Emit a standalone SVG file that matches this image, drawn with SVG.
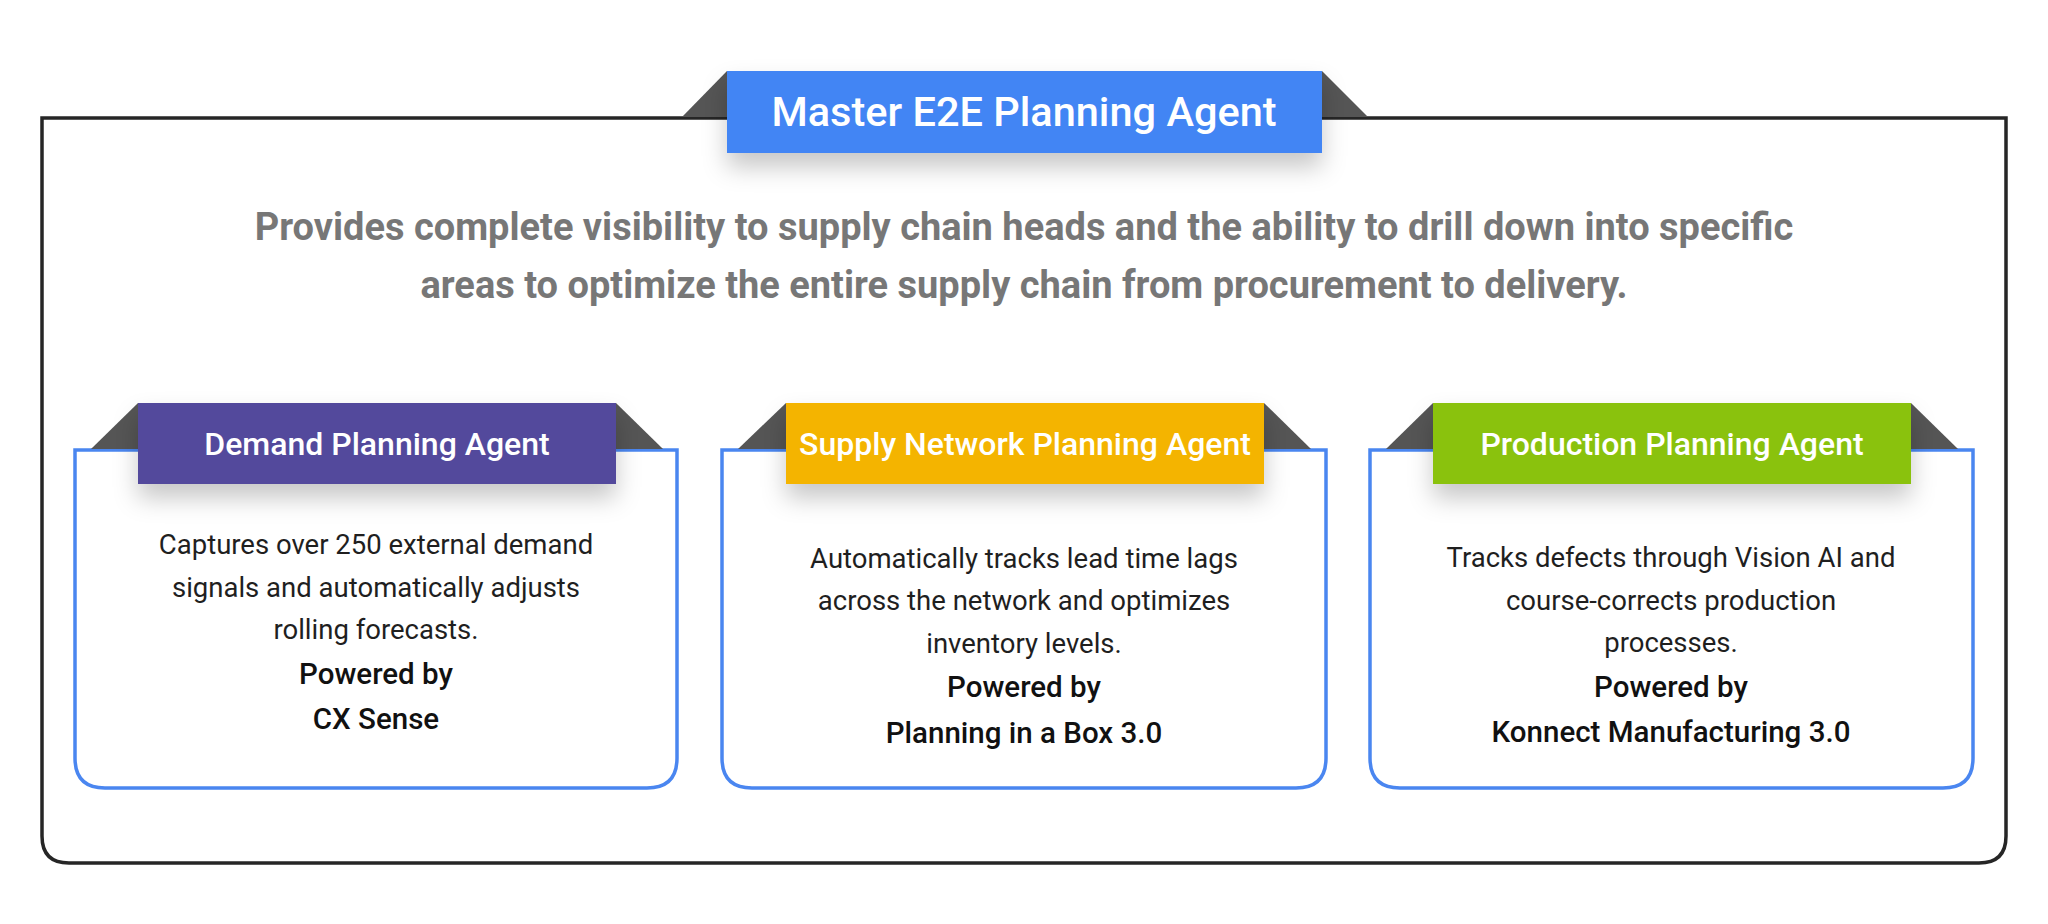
<svg xmlns="http://www.w3.org/2000/svg" width="2048" height="924" viewBox="0 0 2048 924">
  <defs>
    <filter id="shadow" x="-20%" y="-40%" width="140%" height="220%">
      <feDropShadow dx="0" dy="14" stdDeviation="12" flood-color="#000" flood-opacity="0.22"/>
    </filter>
    <style>
      .frame { fill: #fff; stroke: #262626; stroke-width: 3.5; }
      .card { fill: #fff; stroke: #4a86f0; stroke-width: 3.5; }
      .fold { fill: #555555; }
      .title { font-family: Roboto, "Liberation Sans", sans-serif; font-weight: 500; fill: #ffffff; text-anchor: middle; }
      .desc { font-family: Roboto, "Liberation Sans", sans-serif; font-weight: 700; font-size: 38px; fill: #777777; text-anchor: middle; }
      .body { font-family: Roboto, "Liberation Sans", sans-serif; font-weight: 400; font-size: 27.5px; fill: #1f1f1f; text-anchor: middle; }
      .bold { font-family: Roboto, "Liberation Sans", sans-serif; font-weight: 500; font-size: 29.5px; fill: #111111; text-anchor: middle; }
    </style>
  </defs>
  <rect width="2048" height="924" fill="#ffffff"/>

  <g id="master">
    <path class="frame" d="M42 118 H2006 V836 Q2006 863 1979 863 H69 Q42 863 42 836 Z"/>
    <polygon class="fold" points="682,117 727,71 727,117"/>
    <polygon class="fold" points="1322,71 1368,117 1322,117"/>
    <rect x="727" y="71" width="595" height="82" fill="#4285f4" filter="url(#shadow)"/>
    <text class="title" x="1024" y="126" font-size="41.5">Master E2E Planning Agent</text>
    <text class="desc" x="1024" y="240">Provides complete visibility to supply chain heads and the ability to drill down into specific</text>
    <text class="desc" x="1024" y="298">areas to optimize the entire supply chain from procurement to delivery.</text>
  </g>

  <g id="demand">
    <path class="card" d="M75 450 H677 V758 Q677 788 647 788 H105 Q75 788 75 758 Z"/>
    <polygon class="fold" points="91,449 138,403 138,449"/>
    <polygon class="fold" points="616,403 663,449 616,449"/>
    <rect x="138" y="403" width="478" height="81" fill="#52489c" filter="url(#shadow)"/>
    <text class="title" x="377" y="455" font-size="32">Demand Planning Agent</text>
    <text class="body" x="376" y="554">Captures over 250 external demand</text>
    <text class="body" x="376" y="597">signals and automatically adjusts</text>
    <text class="body" x="376" y="639">rolling forecasts.</text>
    <text class="bold" x="376" y="684">Powered by</text>
    <text class="bold" x="376" y="729">CX Sense</text>
  </g>

  <g id="supply">
    <path class="card" d="M722 450 H1326 V758 Q1326 788 1296 788 H752 Q722 788 722 758 Z"/>
    <polygon class="fold" points="738,449 786,403 786,449"/>
    <polygon class="fold" points="1264,403 1311,449 1264,449"/>
    <rect x="786" y="403" width="478" height="81" fill="#f4b400" filter="url(#shadow)"/>
    <text class="title" x="1025" y="455" font-size="32">Supply Network Planning Agent</text>
    <text class="body" x="1024" y="568">Automatically tracks lead time lags</text>
    <text class="body" x="1024" y="610">across the network and optimizes</text>
    <text class="body" x="1024" y="653">inventory levels.</text>
    <text class="bold" x="1024" y="697">Powered by</text>
    <text class="bold" x="1024" y="743">Planning in a Box 3.0</text>
  </g>

  <g id="production">
    <path class="card" d="M1370 450 H1973 V758 Q1973 788 1943 788 H1400 Q1370 788 1370 758 Z"/>
    <polygon class="fold" points="1386,449 1433,403 1433,449"/>
    <polygon class="fold" points="1911,403 1958,449 1911,449"/>
    <rect x="1433" y="403" width="478" height="81" fill="#8ac20c" filter="url(#shadow)"/>
    <text class="title" x="1672" y="455" font-size="32">Production Planning Agent</text>
    <text class="body" x="1671" y="567">Tracks defects through Vision AI and</text>
    <text class="body" x="1671" y="610">course-corrects production</text>
    <text class="body" x="1671" y="652">processes.</text>
    <text class="bold" x="1671" y="697">Powered by</text>
    <text class="bold" x="1671" y="742">Konnect Manufacturing 3.0</text>
  </g>

  <g id="connectors"></g>
</svg>
